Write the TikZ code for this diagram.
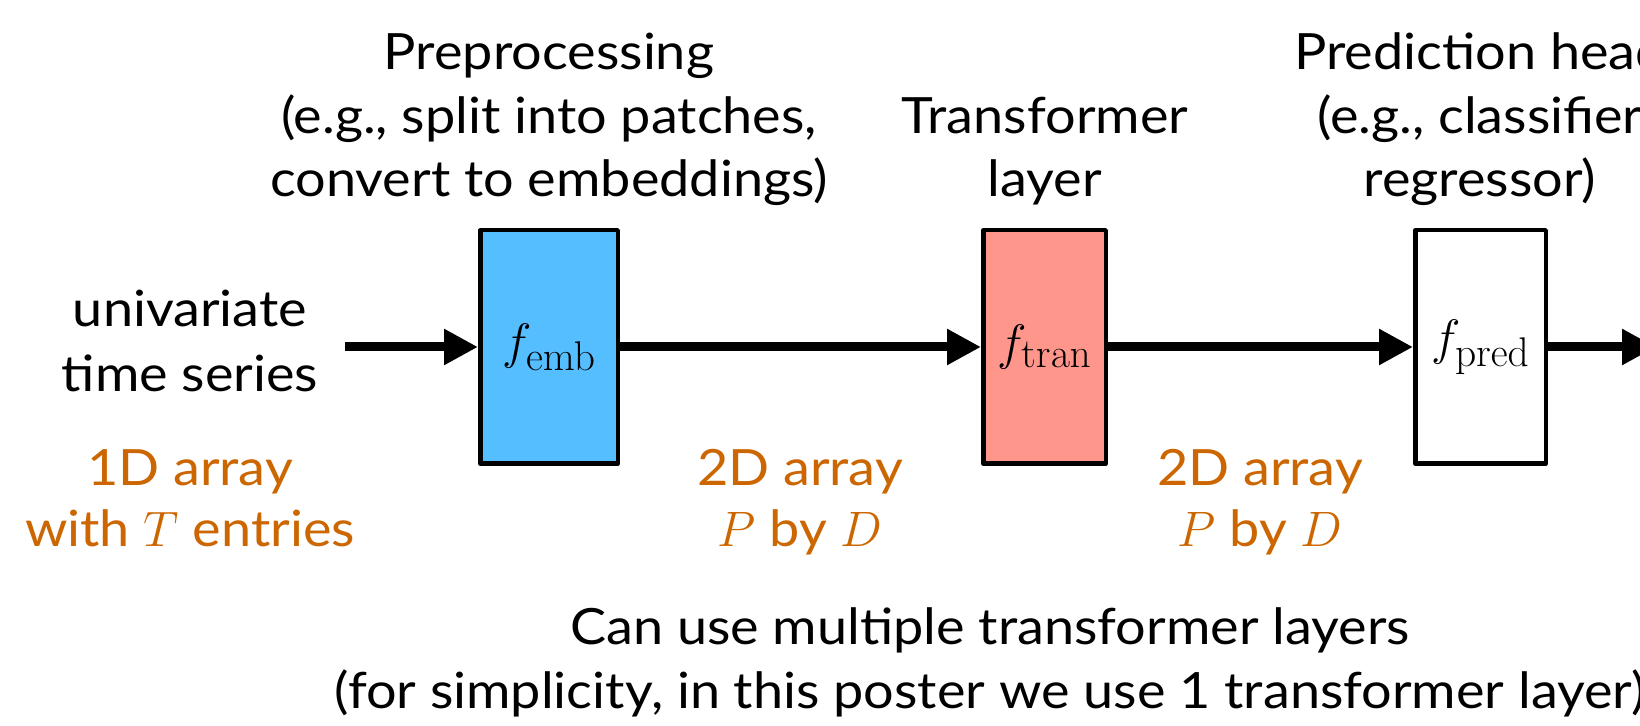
\documentclass[tikz,border=0pt]{standalone}
\usepackage[no-math]{fontspec}
\setmainfont{Lato}[FakeStretch=1.08]
\DeclareMathSizes{27}{27}{20}{14}
\usetikzlibrary{arrows.meta}
\definecolor{embblue}{RGB}{85,190,255}
\definecolor{tranred}{RGB}{255,150,140}
\definecolor{dimorange}{RGB}{204,102,0}
\begin{document}
\begin{tikzpicture}[x=0.5pt,y=-0.5pt,
  lbl/.style={anchor=base, inner sep=0pt, font=\fontsize{25}{32}\selectfont},
  dim/.style={lbl, text=dimorange},
  block/.style={draw=black, line width=2.25pt, line join=round, minimum height=116.75pt,
    inner sep=0pt, font=\fontsize{27}{32}\selectfont},
  flow/.style={line width=4.5pt, -{Triangle[length=17pt,width=17pt]}}]
\clip (0,0) rectangle (1640,726);
\fill[white] (0,0) rectangle (1640,726);

% processing blocks
\node[block, fill=embblue, minimum width=68.75pt] (emb) at (549,347) {$f_{\mathrm{emb}}$};
\node[block, fill=tranred, minimum width=61.25pt] (tran) at (1044.5,347) {$f_{\mathrm{tran}}$};
\node[block, fill=white, minimum width=65.25pt] (pred) at (1480.5,347) {$f_{\mathrm{pred}}$};

% data flow
\coordinate (src) at (345,347);
\coordinate (out) at (1656,347);
\draw[flow] (src) -- (emb);
\draw[flow] (emb) -- (tran);
\draw[flow] (tran) -- (pred);
\draw[flow] (pred) -- (out);

% input description
\node[lbl] (in1) at (190,327) {univariate};
\node[lbl] (in2) at (190,392) {time series};
\node[dim] (in3) at (190,486) {1D array};
\node[dim] (in4) at (190,547) {with $T$ entries};

% block captions
\node[lbl] (pre1) at (549,70) {Preprocessing};
\node[lbl] (pre2) at (549,134) {(e.g., split into patches,};
\node[lbl] (pre3) at (549,197) {convert to embeddings)};
\node[lbl] (tr1) at (1045,134) {Transformer};
\node[lbl] (tr2) at (1045,197) {layer};
\node[lbl] (pr1) at (1480,70) {Prediction head};
\node[lbl] (pr2) at (1480,134) {(e.g., classifier};
\node[lbl] (pr3) at (1480,197) {regressor)};

% array shapes between blocks
\node[dim] (d1a) at (800,486) {2D array};
\node[dim] (d1b) at (800,547) {$P$ by $D$};
\node[dim] (d2a) at (1260,486) {2D array};
\node[dim] (d2b) at (1260,547) {$P$ by $D$};

% footnote
\node[lbl] (note1) at (990,645) {Can use multiple transformer layers};
\node[lbl] (note2) at (990,709) {(for simplicity, in this poster we use 1 transformer layer)};
\end{tikzpicture}
\end{document}
